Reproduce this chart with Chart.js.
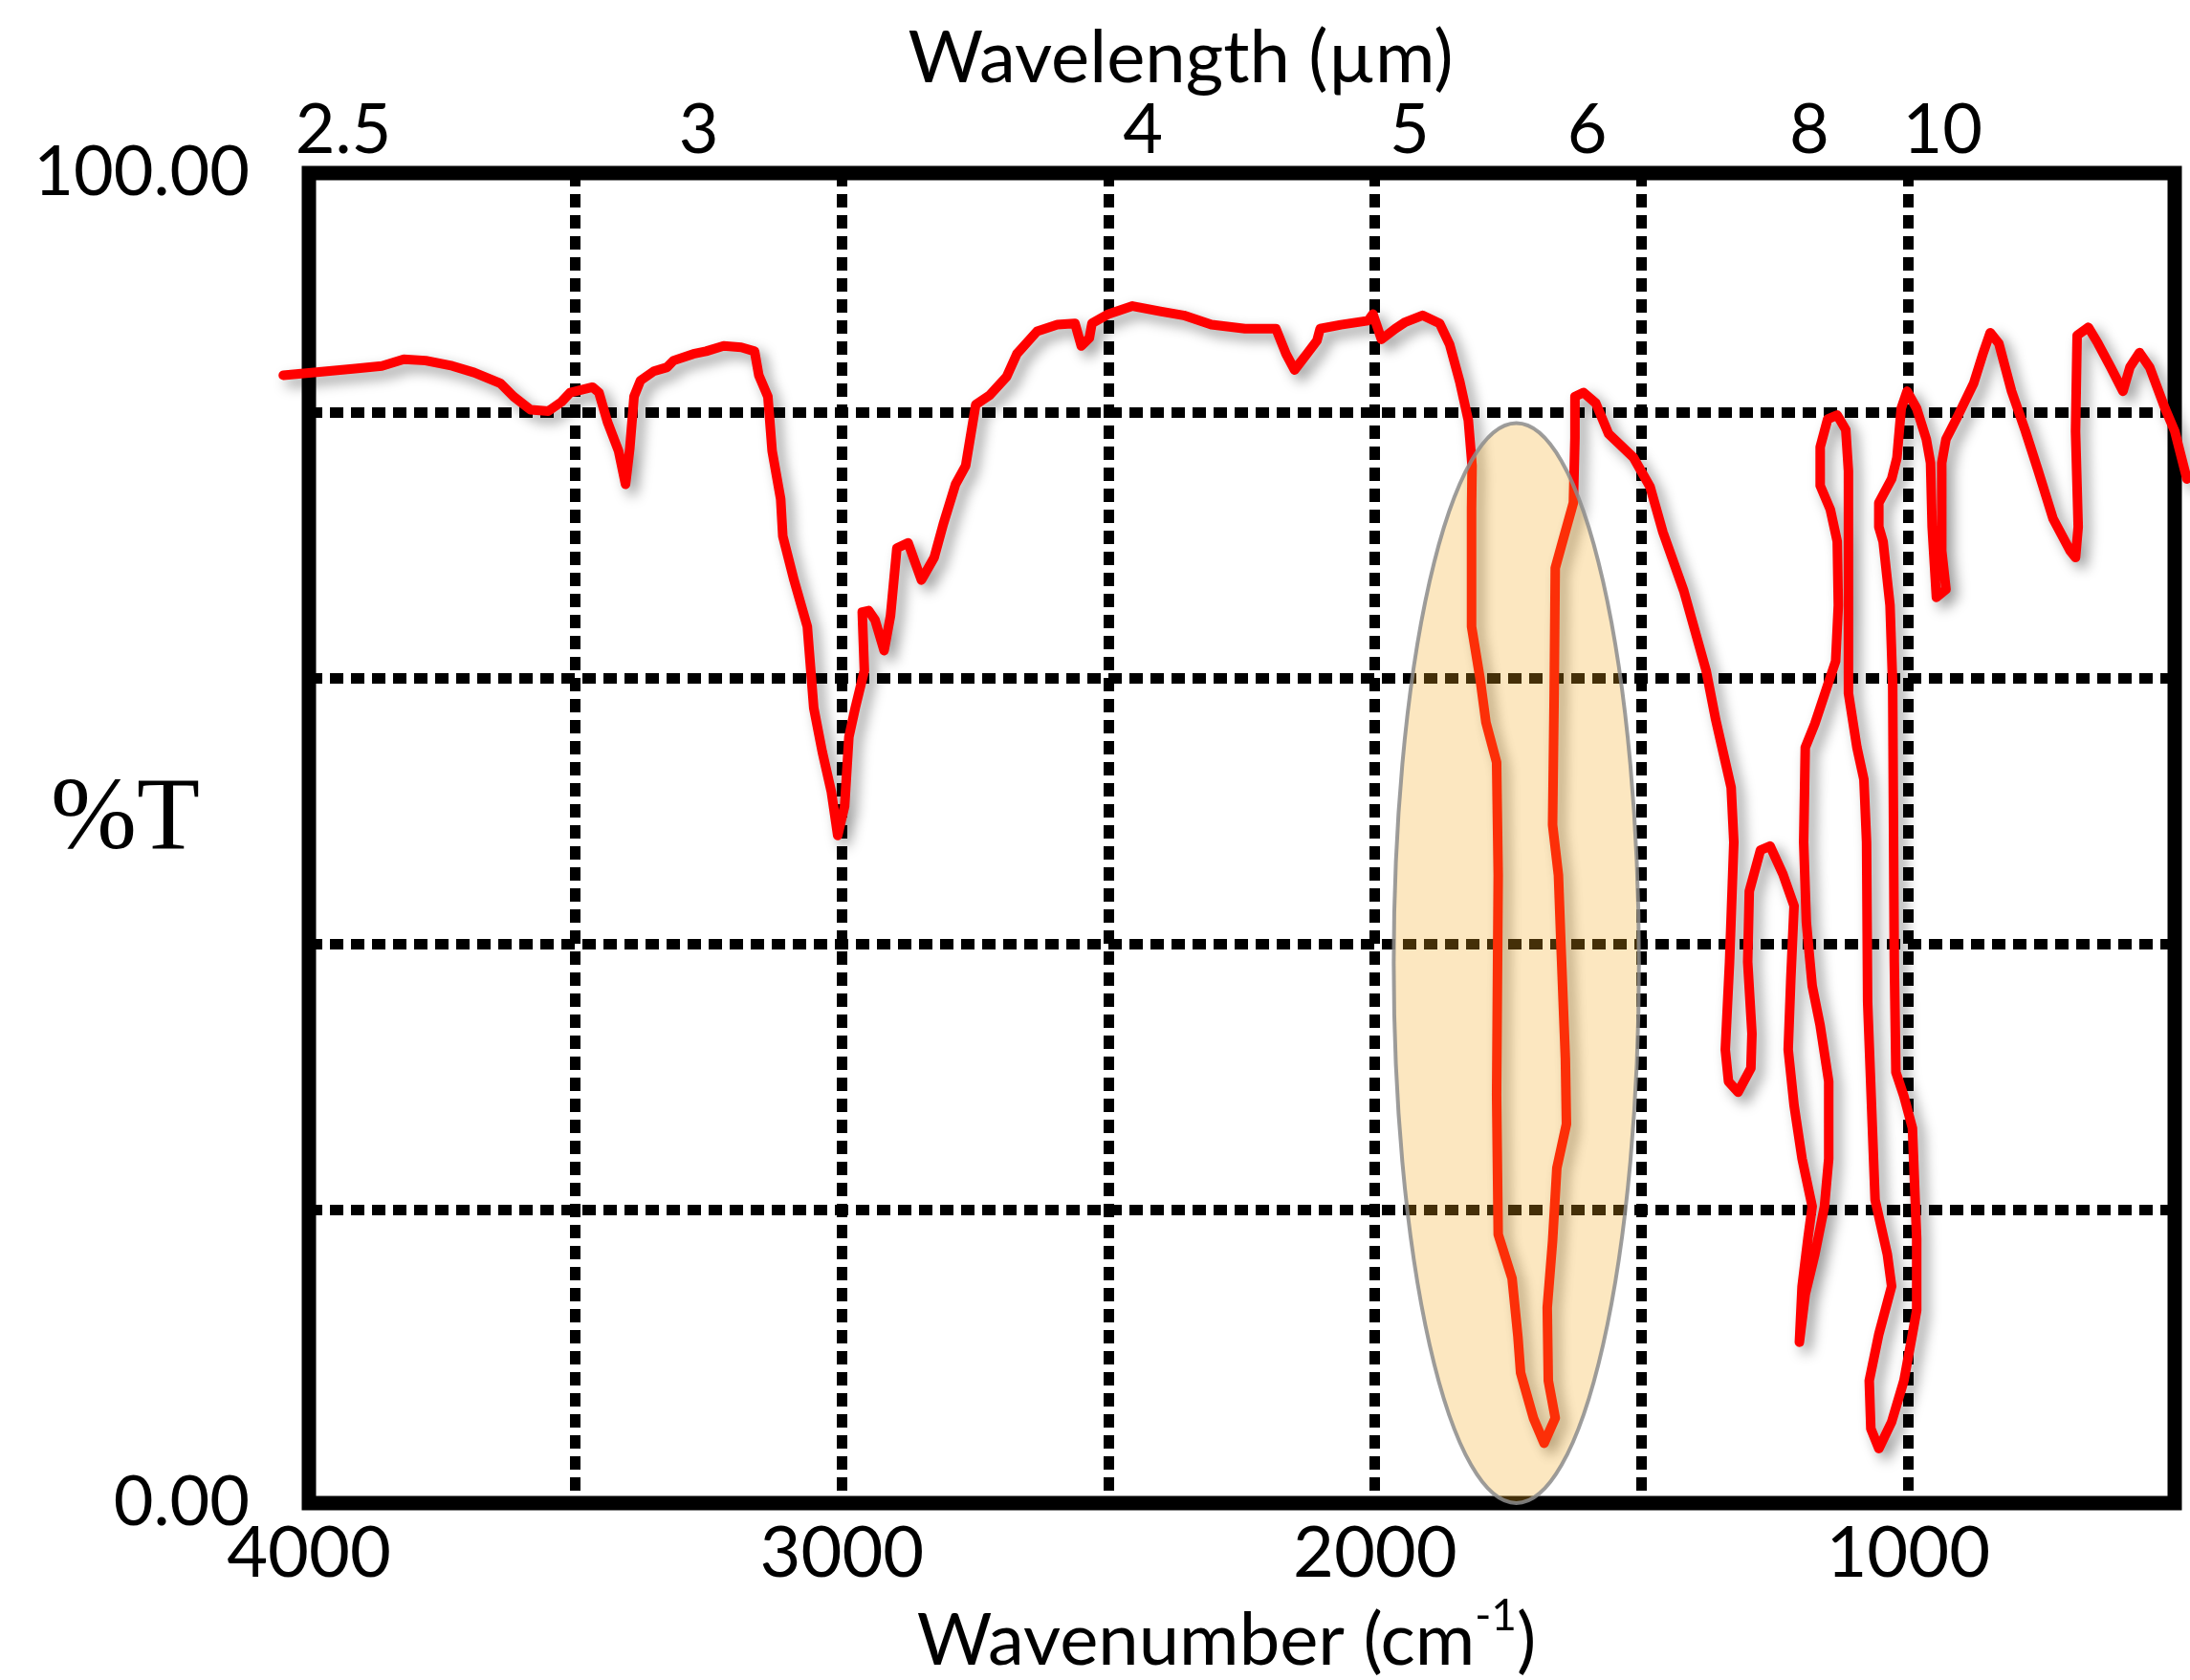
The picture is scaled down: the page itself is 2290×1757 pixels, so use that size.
<!DOCTYPE html>
<html>
<head>
<meta charset="utf-8">
<title>IR spectrum</title>
<script src="https://cdn.jsdelivr.net/npm/chart.js@4.4.1/dist/chart.umd.min.js"></script>
<style>
  html, body { margin: 0; padding: 0; background: #fff; }
</style>
</head>
<body>
<canvas id="irChart" width="2290" height="1757"></canvas>
<script>
// spectrum trace, in drawing order (the pen goes back and forth below 1800 cm-1)
const wavenumber = [
  4048, 3995, 3913, 3863, 3822, 3781, 3731, 3690, 3641, 3616, 3584, 3551, 3526, 3510, 3468, 3456,
  3440, 3419, 3406, 3398, 3390, 3378, 3353, 3328, 3316, 3279, 3255, 3222, 3189, 3164, 3156, 3139,
  3131, 3115, 3111, 3090, 3065, 3053, 3037, 3020, 3008, 2995, 2987, 2975, 2958, 2962, 2950, 2938,
  2921, 2909, 2897, 2876, 2851, 2827, 2810, 2787, 2768, 2749, 2723, 2691, 2672, 2634, 2596, 2563,
  2551, 2536, 2531, 2500, 2455, 2403, 2359, 2307, 2244, 2186, 2167, 2151, 2128, 2109, 2103, 2064,
  2013, 2004, 1988, 1962, 1943, 1911, 1879, 1860, 1841, 1825, 1818, 1819, 1819, 1803, 1792, 1772,
  1769, 1772, 1769, 1743, 1732, 1727, 1703, 1683, 1662, 1675, 1677, 1667, 1659, 1641, 1643, 1651,
  1656, 1667, 1664, 1662, 1651, 1628, 1625, 1625, 1609, 1586, 1562, 1515, 1484, 1460, 1421, 1379,
  1361, 1332, 1327, 1335, 1343, 1337, 1319, 1295, 1293, 1301, 1298, 1277, 1259, 1235, 1214, 1220,
  1225, 1214, 1199, 1180, 1188, 1199, 1204, 1193, 1175, 1157, 1149, 1149, 1165, 1180, 1191, 1196,
  1193, 1175, 1151, 1136, 1131, 1133, 1146, 1165, 1165, 1151, 1133, 1117, 1112, 1112, 1112, 1096,
  1083, 1078, 1076, 1062, 1039, 1031, 1055, 1073, 1070, 1055, 1031, 1008, 992, 984, 984, 992,
  1008, 1023, 1026, 1029, 1034, 1047, 1055, 1055, 1031, 1021, 1013, 1002, 984, 966, 958, 955,
  947, 929, 937, 937, 929, 906, 877, 859, 846, 830, 806, 780, 756, 728, 696, 686,
  681, 686, 683, 662, 644, 620, 597, 584, 566, 547, 518, 500, 477
];
const transmittance = [
  84.8, 85.0, 85.3, 85.5, 86.0, 85.9, 85.5, 85.0, 84.2, 83.2, 82.2, 82.1, 82.8, 83.5, 83.9, 83.5,
  81.3, 79.1, 76.6, 79.3, 83.2, 84.4, 85.1, 85.4, 85.9, 86.4, 86.6, 87.0, 86.9, 86.6, 84.8, 83.2,
  79.1, 75.5, 72.7, 69.4, 65.9, 59.8, 56.5, 53.5, 50.2, 52.4, 57.6, 59.8, 62.6, 67.0, 67.1, 66.4,
  64.1, 66.7, 71.8, 72.2, 69.4, 71.1, 73.6, 76.6, 78.0, 82.6, 83.3, 84.7, 86.4, 88.1, 88.6, 88.7,
  87.0, 87.6, 88.7, 89.4, 90.0, 89.6, 89.3, 88.6, 88.3, 88.3, 86.4, 85.2, 86.4, 87.4, 88.3, 88.6,
  88.9, 89.4, 87.5, 88.3, 88.8, 89.3, 88.7, 87.1, 84.3, 81.4, 78.0, 74.7, 65.9, 62.0, 58.7, 55.7,
  47.2, 30.7, 20.2, 16.9, 12.5, 9.8, 6.4, 4.5, 6.4, 9.2, 14.7, 19.7, 25.2, 28.5, 33.4, 41.7,
  47.2, 51.0, 60.9, 70.3, 71.9, 75.2, 80.1, 83.2, 83.5, 82.7, 80.4, 78.6, 76.4, 73.0, 68.6, 62.6,
  58.9, 53.8, 49.7, 40.7, 34.1, 31.7, 30.9, 32.7, 35.3, 40.7, 46.0, 49.1, 49.4, 47.3, 44.9, 39.5,
  34.1, 29.9, 25.9, 22.3, 19.9, 16.3, 12.1, 15.7, 18.7, 22.3, 25.9, 31.7, 35.9, 38.9, 43.7, 49.7,
  56.8, 58.6, 61.5, 63.3, 67.5, 72.3, 74.7, 76.5, 79.4, 81.5, 81.8, 80.7, 77.6, 70.5, 60.9, 56.8,
  54.4, 49.7, 37.7, 22.8, 18.7, 16.3, 12.7, 9.2, 5.6, 4.1, 6.1, 9.2, 12.7, 14.5, 19.9, 28.2,
  30.6, 32.4, 40.7, 61.5, 67.5, 72.3, 73.4, 75.2, 77.0, 78.6, 82.3, 83.6, 82.3, 80.0, 78.2, 73.4,
  68.1, 68.7, 71.6, 78.2, 80.0, 81.8, 84.2, 86.5, 88.0, 87.2, 83.6, 80.6, 77.6, 74.0, 71.6, 71.1,
  73.4, 80.6, 87.8, 88.4, 87.2, 85.4, 83.6, 85.4, 86.5, 85.4, 82.3, 80.6, 77.0
];

// axes
const bottomTicks = [4000, 3000, 2000, 1000];
const xGrid = [3500, 3000, 2500, 2000, 1500, 1000];
const yTicks = [0, 100];
const yGrid = [22, 42, 62, 82];
const wavelengthTicks = [2.5, 3, 4, 5, 6, 8, 10];   // µm, top axis

// highlighted band (wavenumber from/to, %T from/to)
const bandX = [1965, 1505];
const bandY = [0, 81.2];

const FONT = 'Lato, "Open Sans", sans-serif';

// grey drop shadow under the red trace
const shadowPlugin = {
  id: 'lineShadow',
  beforeDatasetDraw(chart) {
    const c = chart.ctx;
    c.save();
    c.shadowColor = 'rgba(0,0,0,0.4)';
    c.shadowBlur = 14;
    c.shadowOffsetX = 7;
    c.shadowOffsetY = 7;
  },
  afterDatasetDraw(chart) {
    chart.ctx.restore();
  }
};

// thick black frame, drawn under the trace
const framePlugin = {
  id: 'frame',
  beforeDatasetsDraw(chart) {
    const {ctx, chartArea: a} = chart;
    ctx.save();
    ctx.lineWidth = 15;
    ctx.strokeStyle = '#000';
    ctx.lineJoin = 'miter';
    ctx.strokeRect(a.left, a.top, a.right - a.left, a.bottom - a.top);
    ctx.restore();
  }
};

// translucent ellipse over the C=O band
const bandPlugin = {
  id: 'band',
  afterDatasetsDraw(chart) {
    const {ctx, scales} = chart;
    const x1 = scales.x.getPixelForValue(bandX[0]);
    const x2 = scales.x.getPixelForValue(bandX[1]);
    const y1 = scales.y.getPixelForValue(bandY[0]);
    const y2 = scales.y.getPixelForValue(bandY[1]);
    ctx.save();
    ctx.beginPath();
    ctx.ellipse((x1 + x2) / 2, (y1 + y2) / 2, Math.abs(x2 - x1) / 2, Math.abs(y2 - y1) / 2, 0, 0, Math.PI * 2);
    ctx.fillStyle = 'rgba(245,170,30,0.28)';
    ctx.fill();
    ctx.lineWidth = 4;
    ctx.strokeStyle = 'rgba(140,140,140,0.85)';
    ctx.stroke();
    ctx.restore();
  }
};

// axis titles and the %T label
const titlesPlugin = {
  id: 'titles',
  afterDraw(chart) {
    const {ctx, chartArea: a} = chart;
    const mid = (a.left + a.right) / 2;
    ctx.save();
    ctx.fillStyle = '#000';
    ctx.textBaseline = 'middle';

    ctx.font = '76px ' + FONT;
    ctx.textAlign = 'center';
    ctx.fillText('Wavelength (µm)', mid - 64, 61);

    // Wavenumber (cm-1) with a raised -1
    const p1 = 'Wavenumber (cm', sup = '-1', p2 = ')';
    ctx.font = '76px ' + FONT;
    const w1 = ctx.measureText(p1).width, w3 = ctx.measureText(p2).width;
    ctx.font = '46px ' + FONT;
    const w2 = ctx.measureText(sup).width;
    let x = mid - 16 - (w1 + w2 + w3) / 2;
    const y = 1716;
    ctx.textAlign = 'left';
    ctx.font = '76px ' + FONT;
    ctx.fillText(p1, x, y);
    x += w1;
    ctx.font = '46px ' + FONT;
    ctx.fillText(sup, x, y - 26);
    x += w2;
    ctx.font = '76px ' + FONT;
    ctx.fillText(p2, x, y);

    ctx.font = '108px "Liberation Serif", "DejaVu Serif", serif';
    ctx.textAlign = 'center';
    ctx.fillText('%T', 131, 859);
    ctx.restore();
  }
};

const points = wavenumber.map((w, i) => ({x: w, y: transmittance[i]}));

const data = {
  datasets: [{
    label: '%T',
    data: points,
    showLine: true,
    borderColor: '#ff0000',
    borderWidth: 10,
    borderJoinStyle: 'round',
    borderCapStyle: 'round',
    pointRadius: 0,
    tension: 0,
    clip: false
  }]
};

const config = {
  type: 'scatter',
  data: data,
  options: {
    responsive: false,
    animation: false,
    devicePixelRatio: 1,
    layout: { padding: { left: 0, right: 13, top: 0, bottom: 0 } },
    plugins: {
      legend: { display: false },
      tooltip: { enabled: false }
    },
    scales: {
      x: {
        type: 'linear',
        position: 'bottom',
        min: 500,
        max: 4000,
        reverse: true,
        afterBuildTicks: (scale) => {
          scale.ticks = [4000, ...xGrid, 500].map(v => ({value: v}));
        },
        afterFit: (scale) => { scale.height = 185; },
        ticks: {
          autoSkip: false,
          maxRotation: 0,
          padding: 16,
          color: '#000',
          font: { family: FONT, size: 74, lineHeight: 1 },
          callback: (v) => bottomTicks.includes(v) ? String(v) : ''
        },
        grid: {
          drawTicks: false,
          lineWidth: 11,
          color: (ctx) => (ctx.tick && xGrid.includes(ctx.tick.value)) ? '#000' : 'rgba(0,0,0,0)'
        },
        border: { display: false, dash: [14, 8] }
      },
      xTop: {
        type: 'linear',
        position: 'top',
        min: 500,
        max: 4000,
        reverse: true,
        afterBuildTicks: (scale) => {
          scale.ticks = wavelengthTicks.map(l => ({value: 10000 / l}));
        },
        afterFit: (scale) => { scale.height = 181; },
        ticks: {
          autoSkip: false,
          maxRotation: 0,
          padding: 8,
          labelOffset: 36,
          color: '#000',
          font: { family: FONT, size: 72, lineHeight: 1 },
          callback: (v) => String(Math.round(10000 / v * 10) / 10)
        },
        grid: { display: false, drawTicks: false },
        border: { display: false }
      },
      y: {
        type: 'linear',
        position: 'left',
        min: 0,
        max: 100,
        afterBuildTicks: (scale) => {
          scale.ticks = [0, ...yGrid, 100].map(v => ({value: v}));
        },
        afterFit: (scale) => { scale.width = 323; },
        ticks: {
          autoSkip: false,
          padding: 62,
          color: '#000',
          font: { family: FONT, size: 72, lineHeight: 1 },
          callback: (v) => yTicks.includes(v) ? v.toFixed(2) : ''
        },
        grid: {
          drawTicks: false,
          lineWidth: 11,
          color: (ctx) => (ctx.tick && yGrid.includes(ctx.tick.value)) ? '#000' : 'rgba(0,0,0,0)'
        },
        border: { display: false, dash: [14, 8] }
      }
    }
  },
  plugins: [shadowPlugin, framePlugin, bandPlugin, titlesPlugin]
};

const irChart = new Chart(document.getElementById('irChart'), config);
</script>
</body>
</html>
